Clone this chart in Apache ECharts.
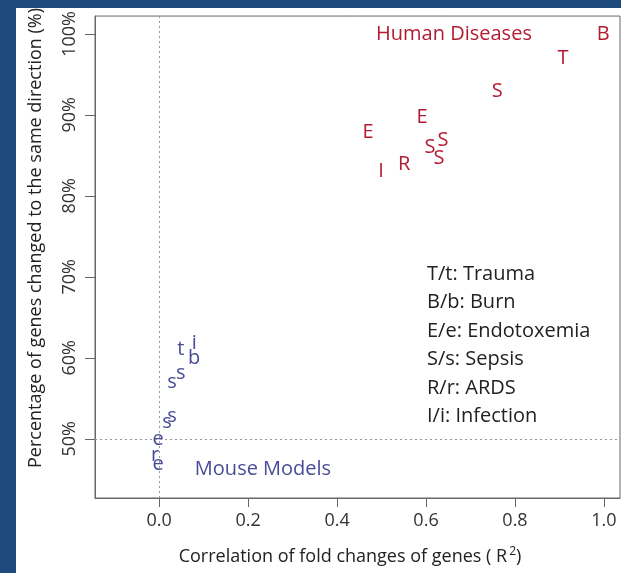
<!DOCTYPE html>
<html><head><meta charset="utf-8">
<script src="https://cdn.jsdelivr.net/npm/echarts@6/dist/echarts.min.js"></script>
<style>
html,body{margin:0;padding:0;background:#1f4a7d;width:621px;height:573px;overflow:hidden;}
#chart{position:absolute;left:16px;top:8px;width:605px;height:565px;background:#fff;}
</style></head>
<body><div id="chart"></div>
<script>
var humanLabels = ['B','T','S','E','E','S','S','S','R','I'];
var humanX = [0.998, 0.908, 0.760, 0.591, 0.470, 0.609, 0.638, 0.629, 0.551, 0.499];
var humanY = [100.0, 97.0, 92.9, 89.7, 87.8, 86.0, 86.9, 84.7, 83.9, 83.0];
var mouseLabels = ['i','b','t','s','s','s','s','e','r','e'];
var mouseX = [0.079, 0.079, 0.049, 0.049, 0.029, 0.029, 0.018, -0.002, -0.009, -0.002];
var mouseY = [61.8, 59.9, 61.0, 58.1, 57.0, 52.8, 52.0, 50.0, 48.0, 46.9];
var xTicks = [0, 0.2, 0.4, 0.6, 0.8, 1.0];
var yTicks = [50, 60, 70, 80, 90, 100];
var legendLines = ['T/t: Trauma','B/b: Burn','E/e: Endotoxemia','S/s: Sepsis','R/r: ARDS','I/i: Infection'];

var RED = '#b31b30', BLUE = '#474b98', FONT = '"Open Sans", "Noto Sans", sans-serif';
function pts(xs, ys, ls){ return xs.map(function(x,i){ return {value:[x, ys[i]], name: ls[i]}; }); }

var chart = echarts.init(document.getElementById('chart'), null, {renderer:'canvas'});
chart.setOption({
  animation:false,
  grid:{left:79, top:7, right:1, bottom:75, show:true, borderColor:'#666', borderWidth:1, backgroundColor:'transparent'},
  xAxis:{type:'value', min:-0.144, max:1.036,
    axisLine:{show:true, onZero:false, lineStyle:{color:'#666'}},
    axisTick:{show:true, customValues:xTicks, length:9, lineStyle:{color:'#666'}},
    axisLabel:{customValues:xTicks, margin:14, fontSize:18, color:'#333', fontFamily:FONT,
      formatter:function(v){return v.toFixed(1);}},
    splitLine:{show:false}},
  yAxis:{type:'value', min:42.7, max:102.2,
    axisLine:{show:true, onZero:false, lineStyle:{color:'#666'}},
    axisTick:{show:true, customValues:yTicks, length:10, lineStyle:{color:'#666'}},
    axisLabel:{customValues:yTicks, margin:16, fontSize:18, color:'#333', fontFamily:FONT, rotate:90,
      formatter:function(v){return v+'%';}},
    splitLine:{show:false}},
  series:[
    {type:'scatter', name:'Human', symbolSize:0, itemStyle:{opacity:1}, data:pts(humanX, humanY, humanLabels),
     label:{show:true, position:'inside', formatter:'{b}', color:RED, opacity:1, fontSize:20, fontFamily:FONT},
     markLine:{silent:true, symbol:'none', label:{show:false},
       lineStyle:{type:[2,3], color:'#999', width:1},
       data:[{xAxis:0},{yAxis:50}]}},
    {type:'scatter', name:'Mouse', symbolSize:0, itemStyle:{opacity:1}, data:pts(mouseX, mouseY, mouseLabels),
     label:{show:true, position:'inside', formatter:'{b}', color:BLUE, opacity:1, fontSize:20, fontFamily:FONT}}
  ],
  graphic:[
    {type:'text', x:20, y:230, rotation:Math.PI/2,
     style:{text:'Percentage of genes changed to the same direction (%)', fill:'#222', font:'18px '+FONT, textAlign:'center', textVerticalAlign:'middle'}},
    {type:'text', x:334, y:549,
     style:{text:'Correlation of fold changes of genes ( R{s|2})', fill:'#222', font:'18px '+FONT, textAlign:'center', textVerticalAlign:'middle',
       rich:{s:{fontSize:12, verticalAlign:'top', padding:[0,0,10,2], fontFamily:FONT, fill:'#222'}}}},
    {type:'text', x:438, y:26,
     style:{text:'Human Diseases', fill:RED, font:'20px '+FONT, textAlign:'center', textVerticalAlign:'middle'}},
    {type:'text', x:247, y:461,
     style:{text:'Mouse Models', fill:BLUE, font:'20px '+FONT, textAlign:'center', textVerticalAlign:'middle'}},
    {type:'text', x:411, y:252,
     style:{text:legendLines.join('\n'), fill:'#222', font:'20px '+FONT, lineHeight:28.4, textAlign:'left', textVerticalAlign:'top'}}
  ]
});
</script></body></html>
